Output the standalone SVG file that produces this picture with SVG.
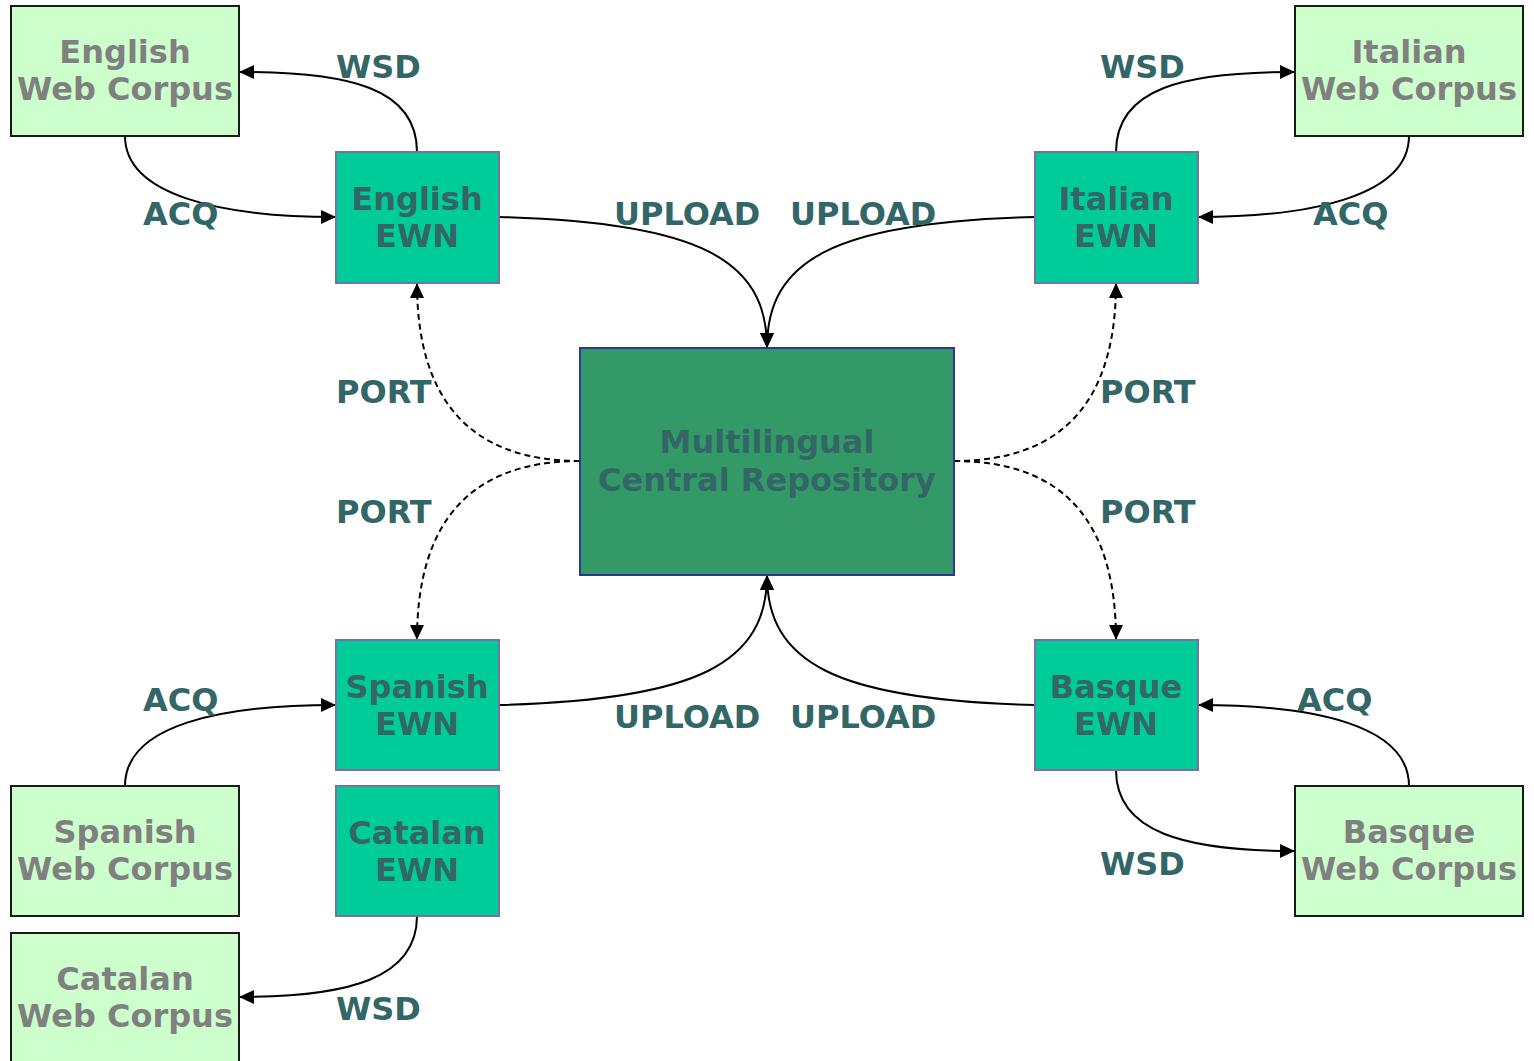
<svg xmlns="http://www.w3.org/2000/svg" width="1534" height="1061" viewBox="0 0 1534 1061">
<defs>
<marker id="ah" markerUnits="userSpaceOnUse" markerWidth="16" markerHeight="14" refX="15" refY="7" orient="auto">
<path d="M0,0 L15,7 L0,14 Z" fill="#000"/>
</marker>
<style>
.corpus rect{fill:#ccffcc;stroke:#1a1a1a;stroke-width:2}
.corpus text{fill:#808080}
.ewn rect{fill:#00cc99;stroke:#7b6fa6;stroke-width:2}
.ewn text,.lbl{fill:#336666}
.central rect{fill:#339966;stroke:#333399;stroke-width:2}
.central text{fill:#336666}
text{font-family:"DejaVu Sans",sans-serif;font-weight:bold;font-size:32px}
.node text{text-anchor:middle}
.edge{fill:none;stroke:#000;stroke-width:2;marker-end:url(#ah)}
.dash{stroke-dasharray:6,4}
</style>
</defs>
<rect width="1534" height="1061" fill="#fff"/>
<g id="connectors">
<path class="edge" d="M417,152 C417,88 350,72 239,72"/>
<path class="edge" d="M125,136 C125,195 220,217 336,217"/>
<path class="edge" d="M499,217 C700,222 767,260 767,348"/>
<path class="edge" d="M1035,217 C834,222 767,260 767,348"/>
<path class="edge" d="M1116,152 C1116,88 1184,72 1295,72"/>
<path class="edge" d="M1409,136 C1409,195 1314,217 1198,217"/>
<path class="edge dash" d="M580,461 C470,461 417,400 417,283"/>
<path class="edge dash" d="M580,461 C470,461 417,522 417,640"/>
<path class="edge dash" d="M954,461 C1064,461 1116,400 1116,283"/>
<path class="edge dash" d="M954,461 C1064,461 1116,522 1116,640"/>
<path class="edge" d="M125,786 C125,725 220,705 336,705"/>
<path class="edge" d="M499,705 C700,700 767,662 767,575"/>
<path class="edge" d="M1035,705 C834,700 767,662 767,575"/>
<path class="edge" d="M1409,786 C1409,725 1314,705 1198,705"/>
<path class="edge" d="M1116,770 C1116,832 1184,851 1295,851"/>
<path class="edge" d="M417,916 C417,978 350,997 239,997"/>
</g>
<g id="labels">
<text class="lbl" x="336" y="78">WSD</text>
<text class="lbl" x="143" y="225">ACQ</text>
<text class="lbl" x="614" y="225">UPLOAD</text>
<text class="lbl" x="790" y="225">UPLOAD</text>
<text class="lbl" x="1313" y="225">ACQ</text>
<text class="lbl" x="1100" y="78">WSD</text>
<text class="lbl" x="336" y="403">PORT</text>
<text class="lbl" x="1100" y="403">PORT</text>
<text class="lbl" x="336" y="523">PORT</text>
<text class="lbl" x="1100" y="523">PORT</text>
<text class="lbl" x="143" y="711">ACQ</text>
<text class="lbl" x="614" y="728">UPLOAD</text>
<text class="lbl" x="790" y="728">UPLOAD</text>
<text class="lbl" x="1297" y="711">ACQ</text>
<text class="lbl" x="1100" y="875">WSD</text>
<text class="lbl" x="336" y="1020">WSD</text>
</g>
<g id="english-corpus" class="node corpus"><rect x="11" y="6" width="228" height="130"/><text x="125" y="63">English</text><text x="125" y="100">Web Corpus</text></g>
<g id="italian-corpus" class="node corpus"><rect x="1295" y="6" width="228" height="130"/><text x="1409" y="63">Italian</text><text x="1409" y="100">Web Corpus</text></g>
<g id="spanish-corpus" class="node corpus"><rect x="11" y="786" width="228" height="130"/><text x="125" y="843">Spanish</text><text x="125" y="880">Web Corpus</text></g>
<g id="catalan-corpus" class="node corpus"><rect x="11" y="933" width="228" height="130"/><text x="125" y="990">Catalan</text><text x="125" y="1027">Web Corpus</text></g>
<g id="basque-corpus" class="node corpus"><rect x="1295" y="786" width="228" height="130"/><text x="1409" y="843">Basque</text><text x="1409" y="880">Web Corpus</text></g>
<g id="english-ewn" class="node ewn"><rect x="336" y="152" width="163" height="131"/><text x="417" y="210">English</text><text x="417" y="247">EWN</text></g>
<g id="italian-ewn" class="node ewn"><rect x="1035" y="152" width="163" height="131"/><text x="1116" y="210">Italian</text><text x="1116" y="247">EWN</text></g>
<g id="spanish-ewn" class="node ewn"><rect x="336" y="640" width="163" height="130"/><text x="417" y="698">Spanish</text><text x="417" y="735">EWN</text></g>
<g id="catalan-ewn" class="node ewn"><rect x="336" y="786" width="163" height="130"/><text x="417" y="844">Catalan</text><text x="417" y="881">EWN</text></g>
<g id="basque-ewn" class="node ewn"><rect x="1035" y="640" width="163" height="130"/><text x="1116" y="698">Basque</text><text x="1116" y="735">EWN</text></g>
<g id="central" class="node central"><rect x="580" y="348" width="374" height="227"/><text x="767" y="453">Multilingual</text><text x="767" y="491">Central Repository</text></g>
</svg>
